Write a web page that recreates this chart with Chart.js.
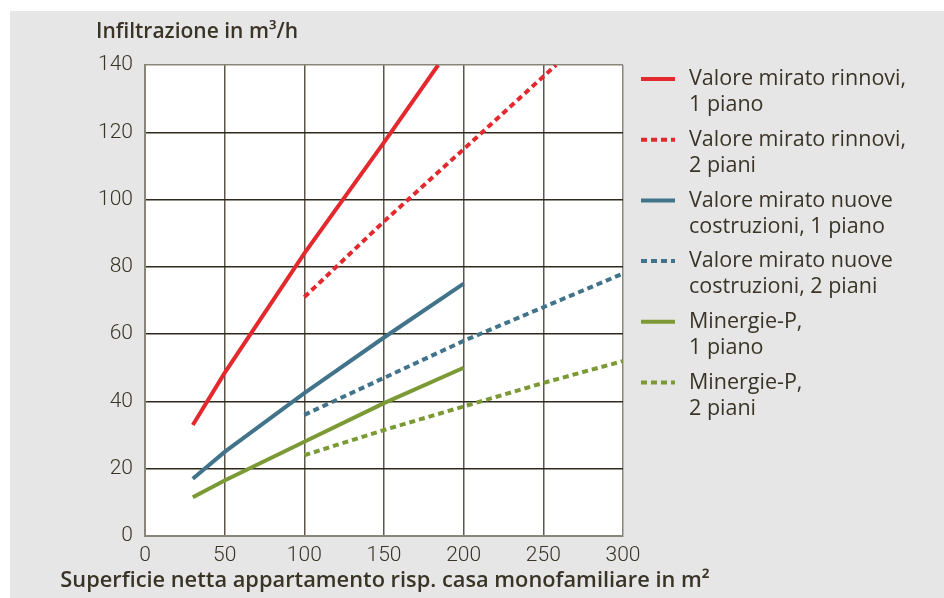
<!DOCTYPE html>
<html>
<head>
<meta charset="utf-8">
<script src="https://cdn.jsdelivr.net/npm/chart.js@4.4.1/dist/chart.umd.min.js"></script>
<style>
  html, body { margin: 0; padding: 0; background: #fff; }
  #wrap { width: 944px; height: 598px; }
</style>
</head>
<body>
<div id="wrap"><canvas id="chart" width="944" height="598"></canvas></div>
<script>
const yTitle = "Infiltrazione in m³/h";
const xTitle = "Superficie netta appartamento risp. casa monofamiliare in m²";

const xTicks = [0, 50, 100, 150, 200, 250, 300];
const yTicks = [0, 20, 40, 60, 80, 100, 120, 140];

// x = superficie (m2), y = infiltrazione (m3/h)
const rinnovi1X = [30, 50, 100, 150, 184];
const rinnovi1Y = [33, 48.5, 84, 117, 140];
const rinnovi2X = [100, 150, 200, 258];
const rinnovi2Y = [71, 93.5, 115, 140];
const nuove1X = [30, 50, 100, 150, 200];
const nuove1Y = [17, 25, 42.5, 59, 75];
const nuove2X = [100, 150, 200, 250, 300];
const nuove2Y = [36, 47, 58, 68, 78];
const minergie1X = [30, 50, 100, 150, 200];
const minergie1Y = [11.5, 16.5, 28, 39.5, 50];
const minergie2X = [100, 150, 200, 250, 300];
const minergie2Y = [24, 31.5, 38.5, 45.5, 52];

const legendLabels = [
  ["Valore mirato rinnovi,", "1 piano"],
  ["Valore mirato rinnovi,", "2 piani"],
  ["Valore mirato nuove", "costruzioni, 1 piano"],
  ["Valore mirato nuove", "costruzioni, 2 piani"],
  ["Minergie-P,", "1 piano"],
  ["Minergie-P,", "2 piani"],
];

const RED = "#e3292d";
const BLUE = "#41738a";
const GREEN = "#7b9a35";
const TEXT = "#3a3427";
const DOTS = [6, 4];

function points(xs, ys) {
  return xs.map((x, i) => ({ x: x, y: ys[i] }));
}

function series(label, xs, ys, color, dashed) {
  return {
    label: label.join(" "),
    data: points(xs, ys),
    borderColor: color,
    backgroundColor: color,
    borderWidth: 4,
    borderDash: dashed ? DOTS : [],
    borderCapStyle: "butt",
    pointRadius: 0,
    tension: 0,
    fill: false,
  };
}

const backgroundPlugin = {
  id: "background",
  beforeDraw(chart) {
    const ctx = chart.ctx;
    const area = chart.chartArea;
    ctx.save();
    ctx.fillStyle = "#ffffff";
    ctx.fillRect(0, 0, chart.width, chart.height);
    ctx.fillStyle = "#e6e6e6";
    ctx.fillRect(10, 11, chart.width - 10, chart.height - 11);
    ctx.fillStyle = "#ffffff";
    ctx.fillRect(area.left, area.top, area.right - area.left, area.bottom - area.top);
    ctx.restore();
  },
};

const textPlugin = {
  id: "texts",
  afterDraw(chart) {
    const ctx = chart.ctx;
    ctx.save();
    ctx.fillStyle = TEXT;
    ctx.textBaseline = "middle";
    ctx.textAlign = "left";
    ctx.font = "600 21px 'Open Sans'";
    ctx.fillText(yTitle, 96, 32);
    ctx.textAlign = "center";
    ctx.font = "600 21.8px 'Open Sans'";
    ctx.fillText(xTitle, 385, 581);

    // legend
    const colors = [RED, RED, BLUE, BLUE, GREEN, GREEN];
    ctx.textAlign = "left";
    ctx.font = "400 21.5px 'Open Sans'";
    legendLabels.forEach((lines, i) => {
      const y = 79 + i * 60.7;
      ctx.strokeStyle = colors[i];
      ctx.lineWidth = 4;
      ctx.lineCap = "butt";
      ctx.setLineDash(i % 2 === 1 ? DOTS : []);
      ctx.beginPath();
      ctx.moveTo(641, y);
      ctx.lineTo(675, y);
      ctx.stroke();
      ctx.fillStyle = TEXT;
      lines.forEach((line, j) => {
        ctx.fillText(line, 689, y + j * 26);
      });
    });
    ctx.restore();
  },
};

new Chart(document.getElementById("chart"), {
  type: "line",
  data: {
    datasets: [
      series(legendLabels[0], rinnovi1X, rinnovi1Y, RED, false),
      series(legendLabels[1], rinnovi2X, rinnovi2Y, RED, true),
      series(legendLabels[2], nuove1X, nuove1Y, BLUE, false),
      series(legendLabels[3], nuove2X, nuove2Y, BLUE, true),
      series(legendLabels[4], minergie1X, minergie1Y, GREEN, false),
      series(legendLabels[5], minergie2X, minergie2Y, GREEN, true),
    ],
  },
  options: {
    responsive: false,
    animation: false,
    events: [],
    layout: { padding: { top: 65, right: 321, bottom: 0, left: 0 } },
    plugins: { legend: { display: false }, tooltip: { enabled: false } },
    scales: {
      x: {
        type: "linear",
        min: xTicks[0],
        max: xTicks[xTicks.length - 1],
        afterBuildTicks: (scale) => { scale.ticks = xTicks.map((v) => ({ value: v })); },
        afterFit: (scale) => { scale.height = 62; },
        border: { color: "#8a8579", width: 2 },
        grid: {
          drawTicks: false,
          lineWidth: 1.5,
          color: (c) => (c.tick && (c.tick.value === 0 || c.tick.value === 300) ? "#8a8579" : "#5d574a"),
        },
        ticks: { color: TEXT, font: { family: "Roboto", size: 21, weight: 300 }, padding: 7 },
      },
      y: {
        min: yTicks[0],
        max: yTicks[yTicks.length - 1],
        afterBuildTicks: (scale) => { scale.ticks = yTicks.map((v) => ({ value: v })); },
        afterFit: (scale) => { scale.width = 145; },
        border: { color: "#8a8579", width: 2 },
        grid: {
          drawTicks: false,
          lineWidth: 1.5,
          color: (c) => (c.tick && (c.tick.value === 0 || c.tick.value === 140) ? "#8a8579" : "#2f2a1d"),
        },
        ticks: { color: TEXT, font: { family: "Roboto", size: 21, weight: 300 }, padding: 12 },
      },
    },
  },
  plugins: [backgroundPlugin, textPlugin],
});
</script>
</body>
</html>
